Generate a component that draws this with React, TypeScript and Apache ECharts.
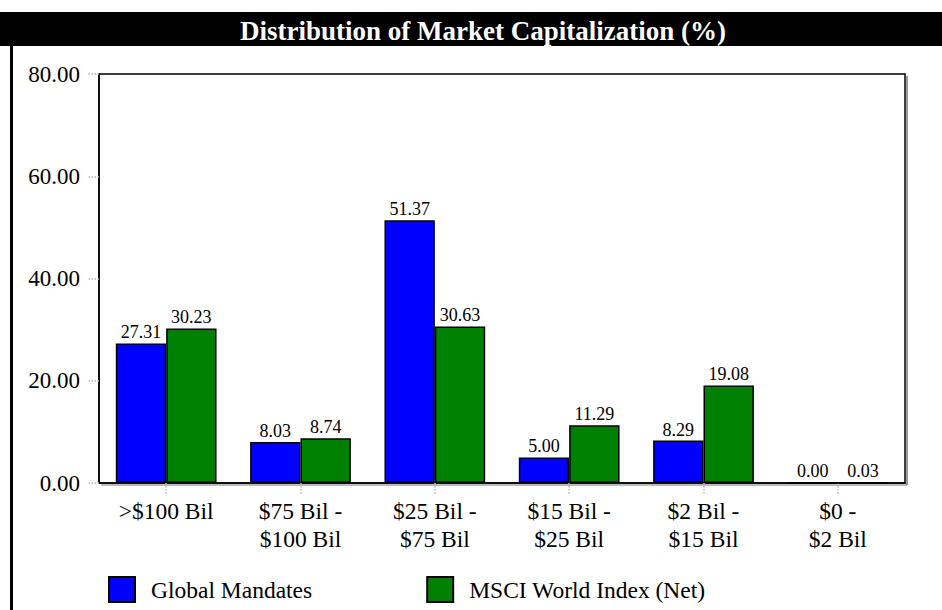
import React, { useEffect, useRef } from "react";
import * as echarts from "echarts";

const categories = [">$100 Bil", "$75 Bil -\n$100 Bil", "$25 Bil -\n$75 Bil", "$15 Bil -\n$25 Bil", "$2 Bil -\n$15 Bil", "$0 -\n$2 Bil"];
const globalMandates = [27.31, 8.03, 51.37, 5.0, 8.29, 0.0];
const msciWorld = [30.23, 8.74, 30.63, 11.29, 19.08, 0.03];
const seriesNames = ["Global Mandates", "MSCI World Index (Net)"];
const title = "Distribution of Market Capitalization (%)";

const FONT = "'Liberation Serif', 'Times New Roman', serif";

export default function App() {
  const ref = useRef<HTMLDivElement>(null);
  useEffect(() => {
    const chart = echarts.init(ref.current!, null, { renderer: "svg" });
    const label = {
      show: true,
      position: "top" as const,
      distance: 2,
      fontFamily: FONT,
      fontSize: 18,
      color: "#000",
      formatter: (p: any) => Number(p.value).toFixed(2),
    };
    chart.setOption({
      animation: false,
      backgroundColor: "#fff",
      textStyle: { fontFamily: FONT },
      graphic: [
        { type: "rect", shape: { x: 0, y: 12, width: 942, height: 34 }, style: { fill: "#000" } },
        {
          type: "text",
          x: 483,
          y: 31,
          style: { text: title, fill: "#fff", font: `bold 27px ${FONT}`, align: "center", verticalAlign: "middle" },
        },
        { type: "rect", shape: { x: 10, y: 46, width: 3, height: 564 }, style: { fill: "#000" } },
        { type: "line", shape: { x1: 907, y1: 76, x2: 907, y2: 485 }, style: { stroke: "#777", lineWidth: 1.5 } },
        { type: "line", shape: { x1: 101, y1: 485, x2: 907, y2: 485 }, style: { stroke: "#777", lineWidth: 1 } },
      ],
      grid: {
        left: 99,
        right: 37,
        top: 74,
        bottom: 127,
        show: true,
        borderColor: "#000",
        borderWidth: 1.5,
        backgroundColor: "transparent",
      },
      legend: {
        left: 103,
        top: 571,
        itemWidth: 26,
        itemHeight: 25,
        itemGap: 114,
        icon: "rect",
        textStyle: { fontFamily: FONT, fontSize: 23.5, color: "#000", padding: [0, 0, 0, 11] },
        data: seriesNames,
      },
      xAxis: {
        type: "category",
        data: categories,
        axisLine: { show: true, lineStyle: { color: "#000", width: 1.5 } },
        axisTick: { show: true, alignWithLabel: true, length: 11, lineStyle: { color: "#bbb", type: "dotted", width: 1.5 } },
        axisLabel: { fontFamily: FONT, fontSize: 23.5, color: "#000", lineHeight: 28, margin: 14, interval: 0 },
        splitLine: { show: false },
      },
      yAxis: {
        type: "value",
        min: 0,
        max: 80,
        interval: 20,
        axisLine: { show: true, lineStyle: { color: "#000", width: 1.5 } },
        axisTick: { show: true, length: 11, lineStyle: { color: "#bbb", type: "dotted", width: 1.5 } },
        axisLabel: { fontFamily: FONT, fontSize: 23, color: "#000", margin: 19, formatter: (v: number) => v.toFixed(2) },
        splitLine: { show: false },
      },
      series: [
        {
          name: seriesNames[0],
          type: "bar",
          data: globalMandates,
          barGap: "0%",
          barCategoryGap: "25%",
          itemStyle: { color: "#0000ff", borderColor: "#000", borderWidth: 1.5 },
          label,
        },
        {
          name: seriesNames[1],
          type: "bar",
          data: msciWorld,
          barGap: "0%",
          barCategoryGap: "25%",
          itemStyle: { color: "#008000", borderColor: "#000", borderWidth: 1.5 },
          label,
        },
      ],
    });
    return () => chart.dispose();
  }, []);
  return <div ref={ref} style={{ width: 942, height: 610, position: "absolute", left: 0, top: 0 }} />;
}
